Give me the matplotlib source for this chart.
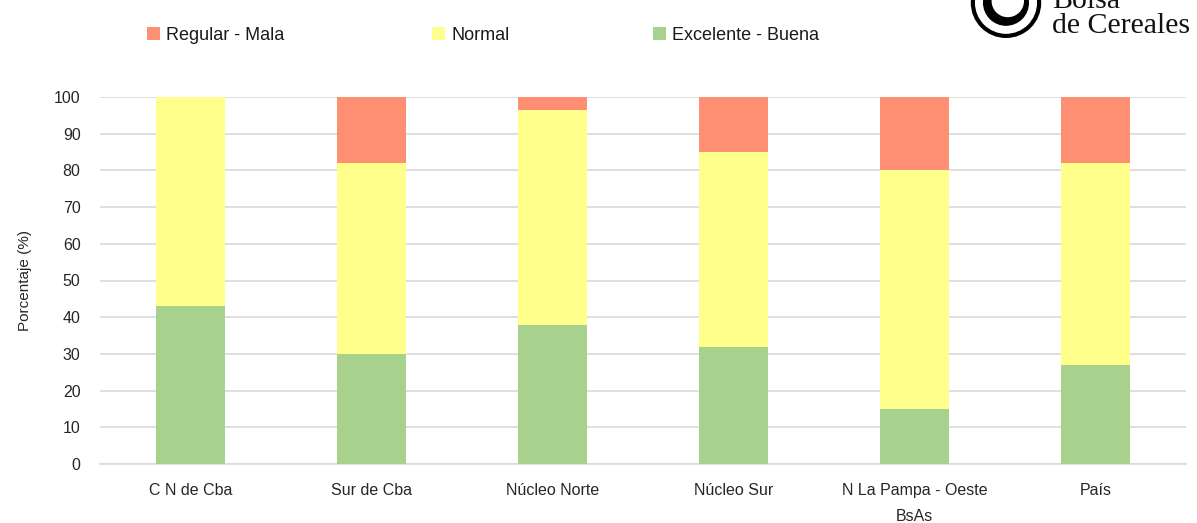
import matplotlib.pyplot as plt
from matplotlib.patches import Circle
import numpy as np

plt.rcParams['font.family'] = ['Liberation Sans Narrow', 'Liberation Sans', 'DejaVu Sans']

# datos
categorias = ['C N de Cba', 'Sur de Cba', 'Núcleo Norte', 'Núcleo Sur',
              'N La Pampa - Oeste\nBsAs', 'País']
excelente_buena = [43, 30, 38, 32, 15, 27]
normal = [57, 52, 58.5, 53, 65, 55]
regular_mala = [0, 18, 3.5, 15, 20, 18]

col_verde = '#A9D18E'
col_amarillo = '#FFFF8C'
col_rojo = '#FF8F73'

fig = plt.figure(figsize=(11.97, 5.23), dpi=100)
ax = fig.add_axes([100 / 1197, 59 / 523, 1086 / 1197, 367 / 523])

x = np.arange(len(categorias))
ancho = 0.376
b1 = ax.bar(x, excelente_buena, ancho, color=col_verde, label='Excelente - Buena', zorder=3)
base2 = np.array(excelente_buena)
b2 = ax.bar(x, normal, ancho, bottom=base2, color=col_amarillo, label='Normal', zorder=3)
base3 = base2 + np.array(normal)
b3 = ax.bar(x, regular_mala, ancho, bottom=base3, color=col_rojo, label='Regular - Mala', zorder=3)

ax.set_xlim(-0.5, len(categorias) - 0.5)
ax.set_ylim(0, 100)
ax.set_yticks(range(0, 101, 10))
ax.grid(axis='y', color='#d9d9d9', linewidth=1.2, zorder=0)
for s in ['top', 'right', 'left']:
    ax.spines[s].set_visible(False)
ax.spines['bottom'].set_color('#d9d9d9')
ax.spines['bottom'].set_linewidth(1.2)
ax.tick_params(length=0, labelsize=11.5, colors='#262626')
ax.tick_params(axis='x', pad=14)
ax.tick_params(axis='y', pad=14)
ax.set_xticks(x)
ax.set_xticklabels(categorias, linespacing=1.9)
ax.set_ylabel('Porcentaje (%)', fontsize=11, color='#262626', labelpad=16)

# leyenda, cada entrada en su posición
for h, xpos in [(b3, 140), (b2, 425), (b1, 646)]:
    lg = fig.legend(handles=[h], loc='center left', bbox_to_anchor=(xpos / 1197, 1 - 35 / 523),
                    frameon=False, fontsize=13, handlelength=0.7, handleheight=0.7,
                    handletextpad=0.35, borderaxespad=0)
    for t in lg.get_texts():
        t.set_color('#1a1a1a')

# logo Bolsa de Cereales (recortado arriba)
logo = fig.add_axes([970 / 1197, 1 - 46 / 523, 72 / 1197, 72 / 523])
logo.set_xlim(-1, 1)
logo.set_ylim(-1, 1)
logo.set_aspect('equal')
logo.axis('off')
logo.add_patch(Circle((0, 0.2), 0.92, facecolor='white', edgecolor='black', linewidth=3))
logo.add_patch(Circle((0, 0.2), 0.62, facecolor='black', edgecolor='black', linewidth=1))
logo.add_patch(Circle((0.05, 0.25), 0.45, facecolor='white', edgecolor='none'))
fig.text(1052 / 1197, 1 - 33 / 523, 'de Cereales', fontsize=21.5, family='Liberation Serif',
         va='baseline', ha='left', color='#111111')
fig.text(1052 / 1197, 1 - 8 / 523, 'Bolsa', fontsize=21.5, family='Liberation Serif',
         va='baseline', ha='left', color='#111111')

fig.savefig('out.png', dpi=100)
